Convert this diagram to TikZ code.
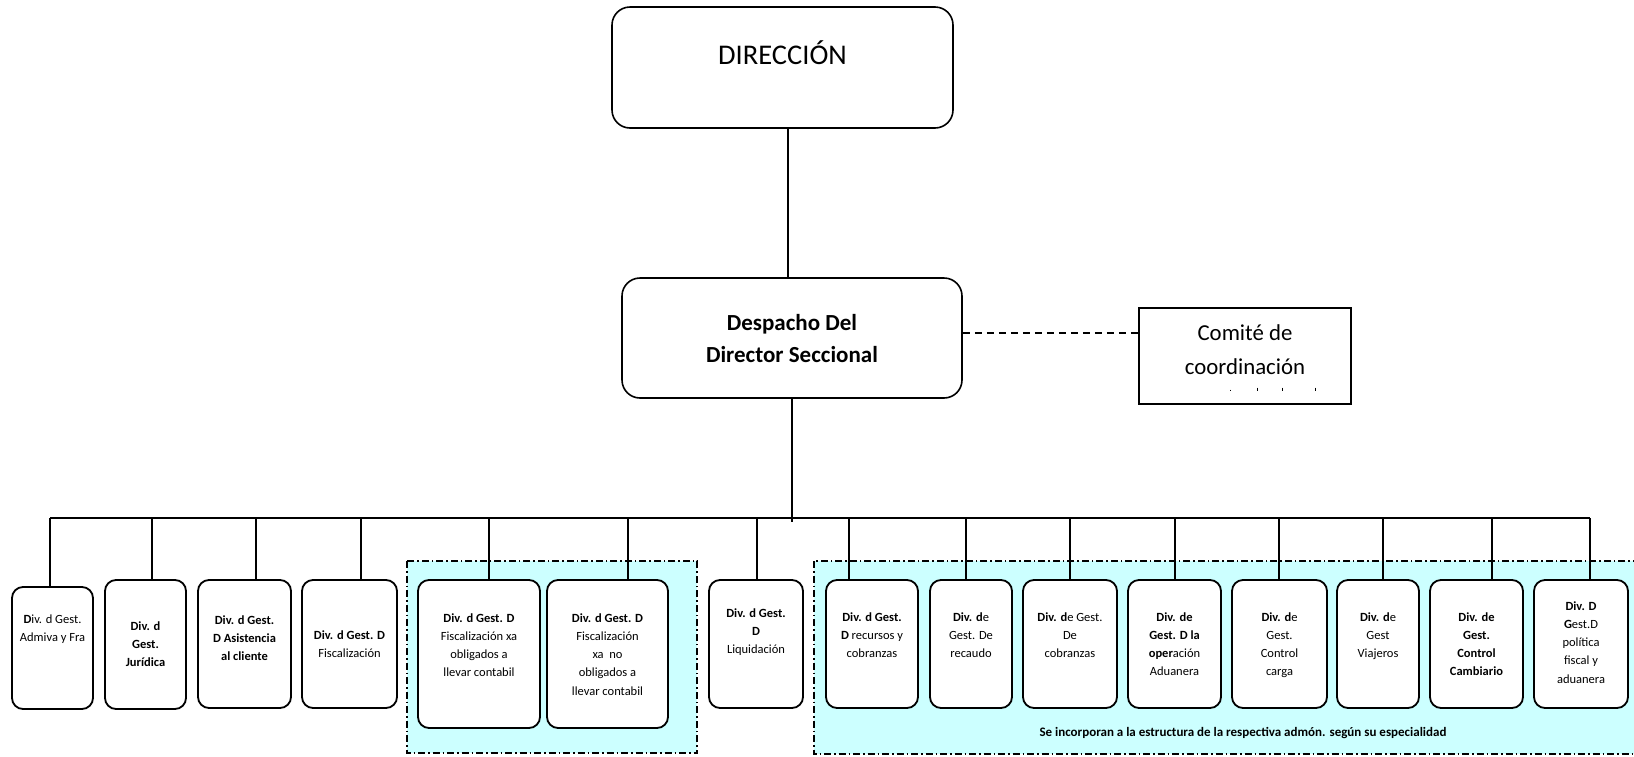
\documentclass[tikz,border=0pt]{standalone}
\usepackage{fontspec}
\setmainfont{Carlito}
\begin{document}
\begin{tikzpicture}[x=1pt,y=-1pt,
  unitbox/.style={draw, line width=1.8pt, rounded corners=11pt, fill=white, inner sep=0pt},
  topbox/.style={draw, line width=1.6pt, rounded corners=18pt, fill=white, inner sep=0pt},
  plainbox/.style={draw, line width=1.6pt, fill=white, inner sep=0pt},
  unittext/.style={anchor=north, align=center, inner sep=0pt, font=\fontsize{12.5}{18.3}\selectfont},
  link/.style={line width=1.5pt},
  group/.style={draw, line width=1.4pt, fill=groupcyan, dash pattern=on 7pt off 3pt on 1.5pt off 3pt}
]
\definecolor{groupcyan}{RGB}{204,255,255}
\useasboundingbox (0,0) rectangle (1634,756);

% shaded groups (dash-dot frames)
\path[group] (407,561) rectangle (697,753);
\path[group] (814,561) rectangle (1650,754);

% top of the hierarchy
\node[topbox, minimum width=341pt, minimum height=121pt] (dir) at (782.5,67.5) {};
\node[anchor=base, inner sep=0pt, font=\fontsize{28.5}{32}\selectfont] (dirt) at (782.5,64) {DIRECCIÓN};

\node[topbox, minimum width=340pt, minimum height=120pt] (desp) at (792,338) {};
\node[anchor=north, align=center, inner sep=0pt, font=\bfseries\fontsize{23}{32}\selectfont] (despt) at (792,308)
  {\strut Despacho Del\\Director Seccional};

\node[plainbox, minimum width=212pt, minimum height=96pt] (com) at (1245,356) {};
\node[anchor=north, align=center, inner sep=0pt, font=\fontsize{22.8}{34}\selectfont] (comt) at (1245,316.5)
  {\strut Comité de\\coordinación};
% clipped remains of a third line
\draw[line width=1pt] (1230,389.5) -- (1230,391);
\draw[line width=1pt] (1257,387.5) -- (1257,391);
\draw[line width=1pt] (1282,387.5) -- (1282,391);
\draw[line width=1pt] (1315,387.5) -- (1315,391);

\draw[link] ([xshift=5.5pt]dir.south) -- ([xshift=5.5pt]dir.south |- desp.north);
\draw[line width=1.3pt, dash pattern=on 7pt off 5pt] ([yshift=5pt]desp.east) -- ([yshift=5pt]desp.east -| com.west);

% bus
\coordinate (busL) at (50,518);
\coordinate (busR) at (1590,518);
\draw[line width=2pt] (busL) -- (busR);
\draw[link] (desp.south) -- ++(0,123);

% divisions
\node[unitbox, minimum width=81pt, minimum height=122pt] (b1) at (52.5,648) {};
\node[unitbox, minimum width=81pt, minimum height=129pt] (b2) at (145.5,644.5) {};
\node[unitbox, minimum width=93pt, minimum height=128pt] (b3) at (244.5,644) {};
\node[unitbox, minimum width=95pt, minimum height=128pt] (b4) at (349.5,644) {};
\node[unitbox, minimum width=122pt, minimum height=148pt] (b5) at (479,654) {};
\node[unitbox, minimum width=121pt, minimum height=148pt] (b6) at (607.5,654) {};
\node[unitbox, minimum width=94pt, minimum height=128pt] (b7) at (756,644) {};
\node[unitbox, minimum width=92pt, minimum height=128pt] (b8) at (872,644) {};
\node[unitbox, minimum width=82pt, minimum height=128pt] (b9) at (971,644) {};
\node[unitbox, minimum width=94pt, minimum height=128pt] (b10) at (1070,644) {};
\node[unitbox, minimum width=93pt, minimum height=128pt] (b11) at (1174.5,644) {};
\node[unitbox, minimum width=95pt, minimum height=128pt] (b12) at (1279.5,644) {};
\node[unitbox, minimum width=82pt, minimum height=128pt] (b13) at (1378,644) {};
\node[unitbox, minimum width=93pt, minimum height=128pt] (b14) at (1476.5,644) {};
\node[unitbox, minimum width=94pt, minimum height=128pt] (b15) at (1581,644) {};

% drops from the bus
\foreach \b/\dx in {b1/-2.5, b2/6.5, b3/11.5, b4/11.5, b5/10, b6/20.5, b7/1, b8/-23, b9/-5, b10/0, b11/0.5, b12/-0.5, b13/5, b14/15.5, b15/9}
  \draw[link] ([xshift=\dx pt]\b.north) -- ([xshift=\dx pt]\b.north |- busL);

\node[unittext] (t1) at (52.5,610) {\strut\textbf{D}iv. d Gest.\\Admiva y Fra};
\node[unittext, font=\bfseries\fontsize{12.5}{18.3}\selectfont] (t2) at (145.5,617) {\strut Div. d\\Gest.\\Jurídica};
\node[unittext, font=\bfseries\fontsize{12.5}{18.3}\selectfont] (t3) at (244.5,611) {\strut Div. d Gest.\\D Asistencia\\al cliente};
\node[unittext] (t4) at (349.5,626) {\strut\textbf{Div. d Gest. D}\\Fiscalización};
\node[unittext] (t5) at (479,609) {\strut\textbf{Div. d Gest. D}\\Fiscalización xa\\obligados a\\llevar contabil};
\node[unittext] (t6) at (607.5,609) {\strut\textbf{Div. d Gest. D}\\Fiscalización\\xa\ \ no\\obligados a\\llevar contabil};
\node[unittext] (t7) at (756,604) {\strut\textbf{Div. d Gest.}\\\textbf{D}\\Liquidación};
\node[unittext] (t8) at (872,608) {\strut\textbf{Div. d Gest.}\\\textbf{D} recursos y\\cobranzas};
\node[unittext] (t9) at (971,608) {\strut\textbf{Div. d}e\\Gest. De\\recaudo};
\node[unittext] (t10) at (1070,608) {\strut\textbf{Div. d}e Gest.\\De\\cobranzas};
\node[unittext] (t11) at (1174.5,608) {\strut\textbf{Div. de}\\\textbf{Gest. D la}\\\textbf{oper}ación\\Aduanera};
\node[unittext] (t12) at (1279.5,608) {\strut\textbf{Div. d}e\\Gest.\\Control\\carga};
\node[unittext] (t13) at (1378,608) {\strut\textbf{Div. d}e\\Gest\\Viajeros};
\node[unittext, font=\bfseries\fontsize{12.5}{18.3}\selectfont] (t14) at (1476.5,608) {\strut Div. de\\Gest.\\Control\\Cambiario};
\node[unittext] (t15) at (1581,597) {\strut\textbf{Div. D}\\\textbf{G}est.D\\política\\fiscal y\\aduanera};

\node[inner sep=0pt, font=\bfseries\fontsize{13}{15}\selectfont] (note) at (1243,733)
  {Se incorporan a la estructura de la respectiva admón. según su especialidad};
\end{tikzpicture}
\end{document}
